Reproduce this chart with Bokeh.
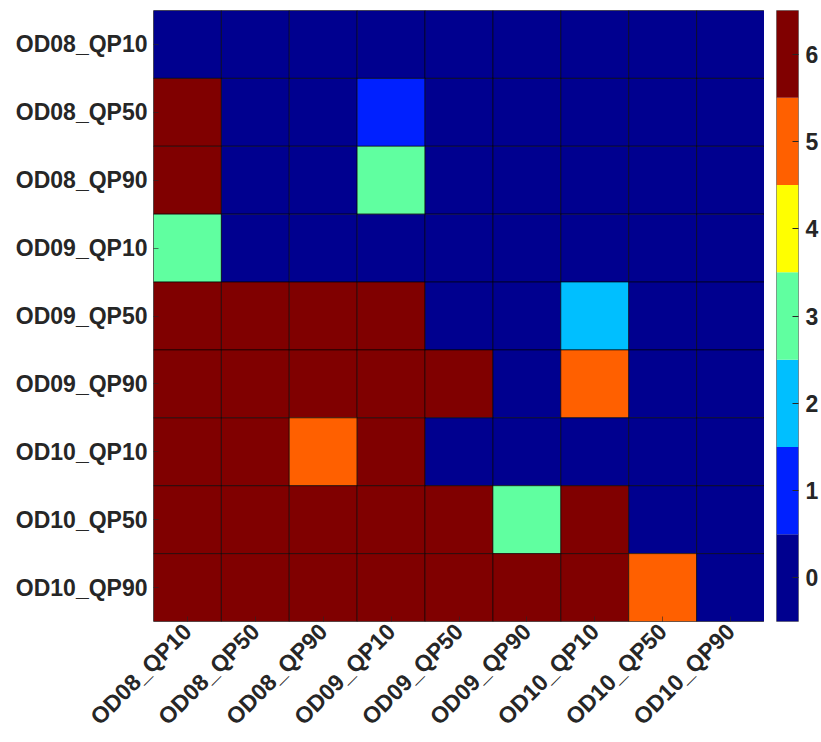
import math
from bokeh.plotting import figure
from bokeh.layouts import row
from bokeh.models import ColumnDataSource, Range1d, FixedTicker, LinearColorMapper
from bokeh.embed import file_html
from bokeh.resources import INLINE

labels = ["OD08_QP10", "OD08_QP50", "OD08_QP90",
          "OD09_QP10", "OD09_QP50", "OD09_QP90",
          "OD10_QP10", "OD10_QP50", "OD10_QP90"]

row_OD08_QP10 = [0, 0, 0, 0, 0, 0, 0, 0, 0]
row_OD08_QP50 = [6, 0, 0, 1, 0, 0, 0, 0, 0]
row_OD08_QP90 = [6, 0, 0, 3, 0, 0, 0, 0, 0]
row_OD09_QP10 = [3, 0, 0, 0, 0, 0, 0, 0, 0]
row_OD09_QP50 = [6, 6, 6, 6, 0, 0, 2, 0, 0]
row_OD09_QP90 = [6, 6, 6, 6, 6, 0, 5, 0, 0]
row_OD10_QP10 = [6, 6, 5, 6, 0, 0, 0, 0, 0]
row_OD10_QP50 = [6, 6, 6, 6, 6, 3, 6, 0, 0]
row_OD10_QP90 = [6, 6, 6, 6, 6, 6, 6, 5, 0]
values = [row_OD08_QP10, row_OD08_QP50, row_OD08_QP90,
          row_OD09_QP10, row_OD09_QP50, row_OD09_QP90,
          row_OD10_QP10, row_OD10_QP50, row_OD10_QP90]

levels = [0, 1, 2, 3, 4, 5, 6]
palette = ["#00008F", "#0020FF", "#00BFFF", "#60FFA0", "#FFFF00", "#FF6000", "#800000"]

FONT = "Liberation Sans"
TXT = "#262626"
FSIZE = "23px"

xs, ys, vs = [], [], []
for i, r in enumerate(labels):
    for j, c in enumerate(labels):
        xs.append(c)
        ys.append(r)
        vs.append(values[i][j])
src = ColumnDataSource(dict(x=xs, y=ys, v=vs))
mapper = LinearColorMapper(palette=palette, low=levels[0] - 0.5, high=levels[-1] + 0.5)

p = figure(width=764, height=742, x_range=labels, y_range=list(reversed(labels)),
           output_backend="svg", toolbar_location=None,
           min_border_left=153, min_border_right=0, min_border_top=10, min_border_bottom=121)
p.rect(x="x", y="y", width=1, height=1, source=src,
       fill_color={"field": "v", "transform": mapper},
       line_color="black", line_alpha=0.6, line_width=1)
p.grid.visible = False
p.outline_line_color = "#808080"
p.outline_line_width = 1
p.background_fill_color = "white"
for ax in (p.xaxis[0], p.yaxis[0]):
    ax.axis_line_color = None
    ax.major_tick_in = 5
    ax.major_tick_out = 0
    ax.major_tick_line_color = "#262626"
    ax.major_tick_line_alpha = 0.6
    ax.major_label_text_font = FONT
    ax.major_label_text_font_style = "bold"
    ax.major_label_text_font_size = FSIZE
    ax.major_label_text_color = TXT
    ax.major_label_standoff = 6
p.xaxis.major_label_orientation = math.pi / 4

cb = figure(width=57, height=742, x_range=Range1d(0, 1),
            y_range=Range1d(levels[0] - 0.5, levels[-1] + 0.5),
            output_backend="svg", toolbar_location=None, y_axis_location="right",
            min_border_left=12, min_border_right=21, min_border_top=10, min_border_bottom=121)
cb.quad(left=0, right=1, bottom=[l - 0.5 for l in levels], top=[l + 0.5 for l in levels],
        fill_color=palette, line_color=None)
cb.xaxis.visible = False
cb.grid.visible = False
cb.outline_line_color = "#808080"
ya = cb.yaxis[0]
ya.ticker = FixedTicker(ticks=levels)
ya.axis_line_color = None
ya.major_tick_in = 6
ya.major_tick_out = 0
ya.major_tick_line_color = "#262626"
ya.minor_tick_line_color = None
ya.major_label_text_font = FONT
ya.major_label_text_font_style = "bold"
ya.major_label_text_font_size = FSIZE
ya.major_label_text_color = TXT
ya.major_label_standoff = 7

layout = row(p, cb, spacing=0)
open("out.html", "w").write(file_html(layout, INLINE))
